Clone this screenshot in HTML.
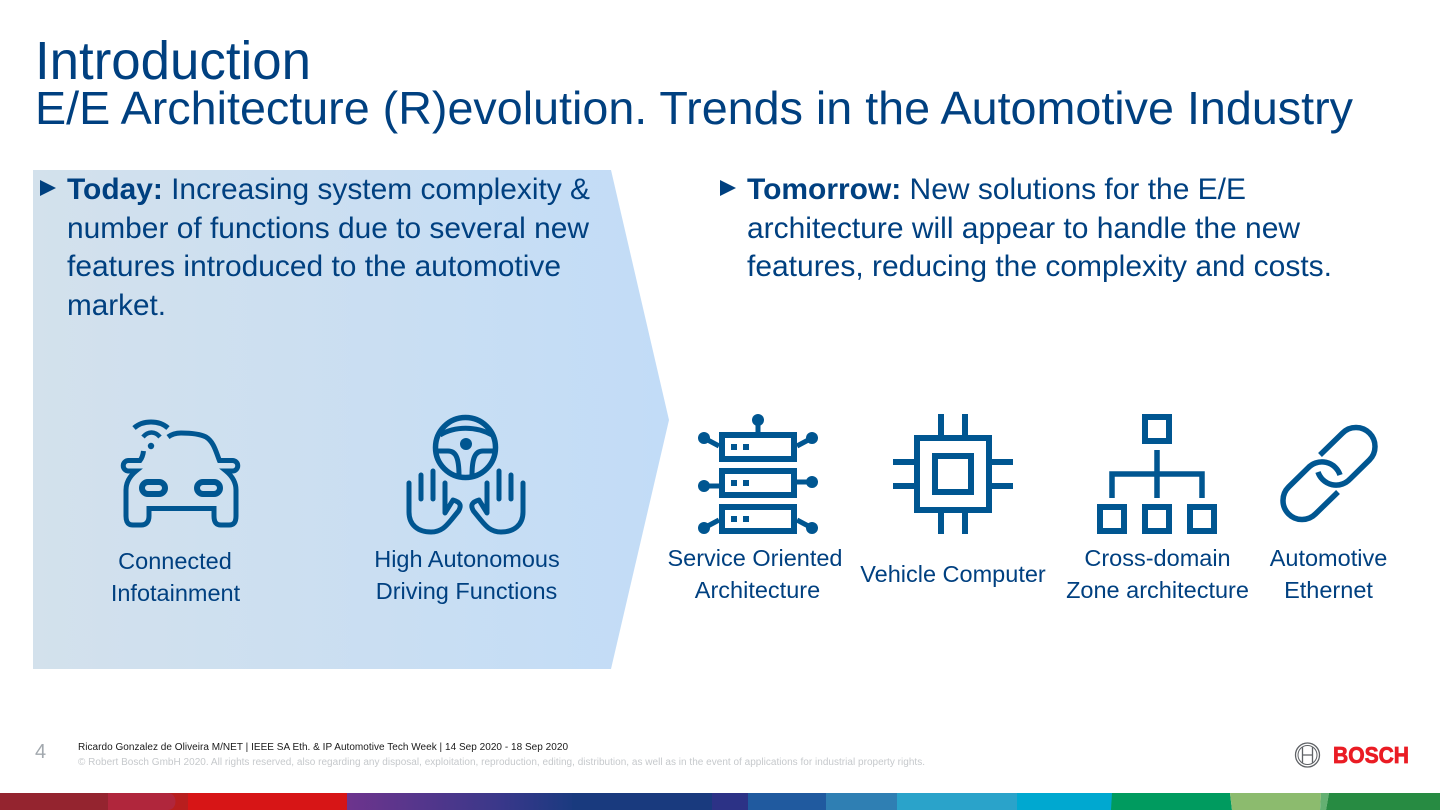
<!DOCTYPE html>
<html><head><meta charset="utf-8"><style>
html,body{margin:0;padding:0;background:#fff;width:1440px;height:810px;overflow:hidden}
svg{display:block}
text{font-family:"Liberation Sans",sans-serif}
.b{font-size:30px;fill:#004080}
.l{font-size:23.500px;fill:#004080}
.i{fill:none;stroke:#005691;stroke-width:5}
.s{fill:none;stroke:#005691;stroke-width:6}
.f{fill:#005691}
</style></head><body>
<svg width="1440" height="810" viewBox="0 0 1440 810" xmlns="http://www.w3.org/2000/svg">
<defs><linearGradient id="g" x1="0" x2="1" y1="0" y2="0"><stop offset="0" stop-color="#d3e1ec"/><stop offset="1" stop-color="#c2dcf7"/></linearGradient></defs>
<rect width="1440" height="810" fill="#fff"/>
<polygon points="33,170 611,170 669,420 611,669 33,669" fill="url(#g)"/>

<text x="35" y="79" font-size="54" fill="#004080" textLength="276" lengthAdjust="spacingAndGlyphs">Introduction</text>
<text x="35" y="124" font-size="46" fill="#004080" textLength="1318" lengthAdjust="spacingAndGlyphs">E/E Architecture (R)evolution. Trends in the Automotive Industry</text>

<polygon points="40,180 40,196 56,188" fill="#00407f"/>
<text class="b" x="67" y="199" textLength="523" lengthAdjust="spacingAndGlyphs"><tspan font-weight="bold">Today:</tspan> Increasing system complexity &amp;</text>
<text class="b" x="67" y="238" textLength="522" lengthAdjust="spacingAndGlyphs">number of functions due to several new</text>
<text class="b" x="67" y="276" textLength="494" lengthAdjust="spacingAndGlyphs">features introduced to the automotive</text>
<text class="b" x="67" y="315" textLength="99" lengthAdjust="spacingAndGlyphs">market.</text>

<polygon points="720,180 720,196 736,188" fill="#00407f"/>
<text class="b" x="747" y="199" textLength="499" lengthAdjust="spacingAndGlyphs"><tspan font-weight="bold">Tomorrow:</tspan> New solutions for the E/E</text>
<text class="b" x="747" y="238" textLength="553" lengthAdjust="spacingAndGlyphs">architecture will appear to handle the new</text>
<text class="b" x="747" y="276" textLength="585" lengthAdjust="spacingAndGlyphs">features, reducing the complexity and costs.</text>

<!-- car -->
<g class="i">
<path d="M168 437 C172 434 176 433 181 433 C191 433 200 434 206 437 C214 442 216 452 220 462"/>
<path d="M218 460.500 H232.500 A5.250 5.250 0 0 1 232.500 471 H226 C232 476 236 482 236 490 V516 C236 522 234 525 229 525 H221 C216 525 214 522 214 516 V508.500 H149 V516 C149 522 146 525 141 525 H133 C128 525 126 522 126 516 V490 C126 482 130 476 136 471 H128.500 A5.250 5.250 0 0 1 128.500 460.500 H140 C142 458 143 455 143.500 451"/>
<rect x="142" y="482" width="23" height="12" rx="6" stroke-width="6"/>
<rect x="197" y="482" width="23" height="12" rx="6" stroke-width="6"/>
<path d="M134 428 C143 420 159 420 168 428"/>
<path d="M143 437 C148 431 155 431 160 437" stroke-width="4.500"/>
</g>
<circle cx="151" cy="446" r="3.200" class="f"/>

<!-- hands/wheel -->
<g class="i" stroke-linecap="round">
<circle cx="465.500" cy="447.500" r="30" stroke-width="5.500" stroke-linecap="butt"/>
<path d="M440 435 C455 426 476 426 492 435" stroke-linecap="butt"/>
<path d="M436 451 H448 C456 451 459 458 459 476" stroke-linecap="butt"/>
<path d="M495 451 H483 C475 451 472 458 472 476" stroke-linecap="butt"/>
<path d="M409 483 V512 C409 525 418 532 431 532 C442 532 447 525 452 519 L458.500 511 C462 505 460 502 453 500 L445 513 V483" stroke-linejoin="round"/>
<path d="M421 475 V499 M433 471 V499"/>
<g transform="matrix(-1 0 0 1 932 0)">
<path d="M409 483 V512 C409 525 418 532 431 532 C442 532 447 525 452 519 L458.500 511 C462 505 460 502 453 500 L445 513 V483" stroke-linejoin="round"/>
<path d="M421 475 V499 M433 471 V499"/>
</g>
</g>
<circle cx="466" cy="444" r="6" class="f"/>

<!-- SOA -->
<g class="s">
<rect x="722" y="435" width="72" height="24"/>
<rect x="722" y="471" width="72" height="24"/>
<rect x="722" y="507" width="72" height="24"/>
<path stroke-width="5" d="M758 420 V432 M704 438 L719 446 M812 438 L797 446 M704 486 H719 M812 482 H797 M704 528 L719 520 M812 528 L797 520"/>
</g>
<g class="f">
<circle cx="758" cy="420" r="6"/><circle cx="704" cy="438" r="6"/><circle cx="812" cy="438" r="6"/>
<circle cx="704" cy="486" r="6"/><circle cx="812" cy="482" r="6"/><circle cx="704" cy="528" r="6"/><circle cx="812" cy="528" r="6"/>
<rect x="731" y="444" width="6" height="6"/><rect x="743" y="444" width="6" height="6"/>
<rect x="731" y="480" width="6" height="6"/><rect x="743" y="480" width="6" height="6"/>
<rect x="731" y="516" width="6" height="6"/><rect x="743" y="516" width="6" height="6"/>
</g>

<!-- chip -->
<g class="s">
<rect x="917" y="438" width="72" height="72"/>
<rect x="935" y="456" width="36" height="36"/>
<path d="M941 414 V435 M965 414 V435 M941 513 V534 M965 513 V534 M893 462 H914 M893 486 H914 M992 462 H1013 M992 486 H1013"/>
</g>

<!-- tree -->
<g class="s">
<rect x="1145" y="417" width="24" height="24"/>
<rect x="1100" y="507" width="24" height="24"/>
<rect x="1145" y="507" width="24" height="24"/>
<rect x="1190" y="507" width="24" height="24"/>
<path d="M1157 450 V498 M1112 498 V474 H1202 V498" stroke-width="5.500"/>
</g>

<!-- link -->
<g class="i" style="stroke-width:5.500">
<path d="M1320 455 L1342.600 433 A19 19 0 0 1 1369.400 460 L1350 479 A19 19 0 0 1 1318 472"/>
<path transform="rotate(180 1329 473.500)" d="M1320 455 L1342.600 433 A19 19 0 0 1 1369.400 460 L1350 479 A19 19 0 0 1 1318 472"/>
</g>

<!-- labels -->
<g class="l" text-anchor="middle">
<text x="175" y="569">Connected</text>
<text x="175.500" y="601">Infotainment</text>
<text x="467" y="567">High Autonomous</text>
<text x="466.500" y="599">Driving Functions</text>
<text x="755" y="566">Service Oriented</text>
<text x="757.500" y="598">Architecture</text>
<text x="953" y="582">Vehicle Computer</text>
<text x="1157.500" y="566">Cross-domain</text>
<text x="1157.500" y="598">Zone architecture</text>
<text x="1328.500" y="566">Automotive</text>
<text x="1328.500" y="598">Ethernet</text>
</g>

<!-- footer -->
<text x="35" y="758" font-size="20" fill="#a2a8ae">4</text>
<text x="78" y="750" font-size="10" fill="#1a1a1a" textLength="490">Ricardo Gonzalez de Oliveira M/NET | IEEE SA Eth. &amp; IP Automotive Tech Week | 14 Sep 2020 - 18 Sep 2020</text>
<text x="78" y="765" font-size="10" fill="#c6c9cc" textLength="847">© Robert Bosch GmbH 2020. All rights reserved, also regarding any disposal, exploitation, reproduction, editing, distribution, as well as in the event of applications for industrial property rights.</text>

<!-- logo -->
<g fill="none" stroke="#5f6266">
<circle cx="1307.500" cy="755" r="12" stroke-width="1.300"/>
<circle cx="1307.500" cy="755" r="9.500" stroke-width="1"/>
<path d="M1302.500 747 V763 M1312.500 747 V763 M1302.500 755 H1312.500" stroke-width="1.300"/>
</g>
<text x="1333" y="763" font-size="23" font-weight="bold" fill="#ea1c24" stroke="#ea1c24" stroke-width=".8" textLength="76" lengthAdjust="spacingAndGlyphs">BOSCH</text>

<!-- colour bar -->
<defs><linearGradient id="p" x1="0" x2="1" y1="0" y2="0"><stop offset="0" stop-color="#6d348d"/><stop offset="1" stop-color="#3a388a"/></linearGradient>
<linearGradient id="q" x1="0" x2="1" y1="0" y2="0"><stop offset="0" stop-color="#39378a"/><stop offset="1" stop-color="#1b3a80"/></linearGradient></defs>
<g>
<rect x="0" y="793" width="108" height="17" fill="#94242f"/>
<rect x="108" y="793" width="80" height="17" fill="#b81e1e"/>
<path d="M108 793 H168 C178 793 178 810 168 810 H108 Z" fill="#b0263c"/>
<rect x="188" y="793" width="159" height="17" fill="#d71516"/>
<path d="M341 793 C349 797 349 806 341 810 H347 V793 Z" fill="#d71516"/>
<rect x="347" y="793" width="153" height="17" fill="url(#p)"/>
<rect x="500" y="793" width="72" height="17" fill="url(#q)"/>
<rect x="572" y="793" width="140" height="17" fill="#193a7e"/>
<rect x="712" y="793" width="36" height="17" fill="#2c3286"/>
<rect x="748" y="793" width="78" height="17" fill="#205a9f"/>
<rect x="826" y="793" width="71" height="17" fill="#2f7fb3"/>
<rect x="897" y="793" width="120" height="17" fill="#2aa3ca"/>
<rect x="1017" y="793" width="95" height="17" fill="#00a8d0"/>
<polygon points="1112,793 1230,793 1232,810 1111,810" fill="#009b5f"/>
<polygon points="1230,793 1321,793 1320,810 1232,810" fill="#8cbb6e"/>
<polygon points="1321,793 1329,793 1326,810 1320,810" fill="#64b072"/>
<polygon points="1329,793 1440,793 1440,810 1326,810" fill="#278b42"/>
</g>
</svg>
</body></html>
